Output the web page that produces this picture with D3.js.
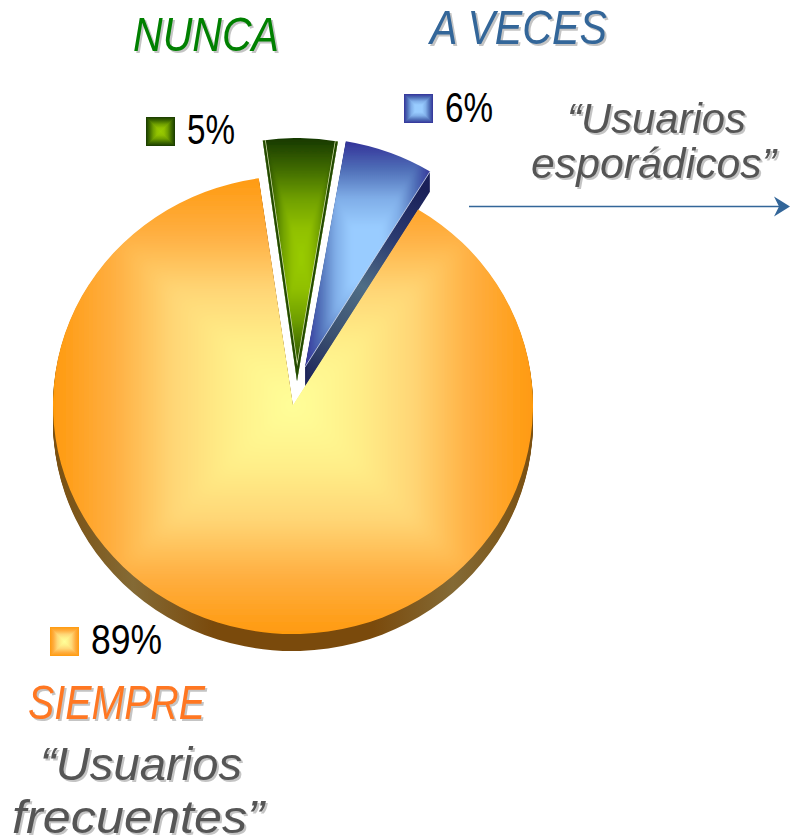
<!DOCTYPE html>
<html>
<head>
<meta charset="utf-8">
<script src="https://cdn.jsdelivr.net/npm/d3@7"></script>
<style>
  html, body { margin: 0; padding: 0; background: #fff; }
  svg { display: block; }
  text { font-family: "Liberation Sans", Arial, sans-serif; }
  .head, .note { font-style: italic; filter: drop-shadow(2px 2px 0 #c4c4c4); }
</style>
</head>
<body>
<div class="canvas"></div>
<script>
// data
const categories = ['NUNCA', 'A VECES', 'SIEMPRE'];
const shares = [5, 6, 89];
const shareLabels = ['5%', '6%', '89%'];

const width = 790;
const height = 838;

// pie geometry, top face is an ellipse
const rx = 240;
const ry = 229;
const cx = 293;
const cy = 405;
const firstAngle = -8.2 * Math.PI / 180;

const svg = d3.select('.canvas')
    .append('svg')
    .attr('width', width)
    .attr('height', height);
const defs = svg.append('defs');

const pie = d3.pie().sort(null).startAngle(firstAngle).endAngle(firstAngle + 2 * Math.PI);
const arcs = pie(shares);
const arc = d3.arc().innerRadius(0).outerRadius(rx);

// how each slice is drawn, same order as categories
const looks = [
    { x: 297, y: 381, yScale: 243 / rx, depth: 0, blur: 1.5,
      fill: ['#183a00', '#3f6a00', '#6f9f00', '#90c000', '#99cc00'], box: [264, 139, 338, 381], mid: [301, 258] },
    { x: 305, y: 367, yScale: ry / rx, depth: 20, blur: 2.5,
      fill: ['#333399', '#5070b8', '#80aee8', '#99ccff', '#99ccff'], box: [305, 142, 431, 367], mid: [366, 255] },
    { x: cx, y: cy, yScale: ry / rx, depth: 17, blur: 7,
      fill: ['#ff9a0e', '#ffae40', '#ffd676', '#fff08a', '#ffff99'], box: [53, 176, 533, 634], mid: [293, 405] }
];

const gradient = (id, x1, y1, x2, y2, stops) => {
    const g = defs.append('linearGradient')
        .attr('id', id)
        .attr('gradientUnits', 'userSpaceOnUse')
        .attr('x1', x1).attr('y1', y1).attr('x2', x2).attr('y2', y2);
    stops.forEach((c, i) => g.append('stop')
        .attr('offset', i / (stops.length - 1))
        .attr('stop-color', c));
    return `url(#${id})`;
};

// concentric "from centre" fill: four triangles meeting in the bright spot
const boxFill = (parent, id, box, mid, colors) => {
    const [x0, y0, x1, y1] = box;
    const [mx, my] = mid;
    const sides = [
        { pts: [[x0, y0], [x1, y0]], from: [mx, y0] },
        { pts: [[x1, y0], [x1, y1]], from: [x1, my] },
        { pts: [[x1, y1], [x0, y1]], from: [mx, y1] },
        { pts: [[x0, y1], [x0, y0]], from: [x0, my] }
    ];
    sides.forEach((s, i) => {
        parent.append('path')
            .attr('d', `M${s.pts[0]}L${s.pts[1]}L${mx},${my}Z`)
            .attr('fill', gradient(`${id}-${i}`, s.from[0], s.from[1], mx, my, colors))
            .attr('stroke', 'none')
            .attr('shape-rendering', 'crispEdges');
    });
};

const sliceTransform = (look) => `translate(${look.x},${look.y}) scale(1,${look.yScale})`;

// point on the rim of a slice, in page pixels
const rimPoint = (look, angle) => [
    look.x + rx * Math.sin(angle),
    look.y - rx * look.yScale * Math.cos(angle)
];

// side walls first, orange then blue. these gradients live in the slice's own coordinates
const blueLook = looks[1];
const sideFills = [
    null,
    gradient('side-blue', 0, 0, rx * Math.sin(arcs[1].endAngle), -rx * Math.cos(arcs[1].endAngle),
        ['#1a2058', '#3a5070', '#4f6d85', '#2a3a70', '#1a2058']),
    gradient('side-orange', -rx, 0, rx, 0,
        ['#7a4f10', '#846a35', '#7a4a0c', '#7a4a0c', '#7a4a0c', '#846a35', '#7a4f10'])
];
[2, 1].forEach(i => {
    const look = looks[i];
    const wall = svg.append('g');
    wall.selectAll('path')
        .data(d3.range(1, look.depth + 1))
        .enter()
        .append('path')
        .attr('d', arc(arcs[i]))
        .attr('fill', sideFills[i])
        .attr('transform', d => `translate(${look.x},${look.y + d}) scale(1,${look.yScale})`);
});

// top faces
[2, 1, 0].forEach(i => {
    const look = looks[i];
    defs.append('clipPath')
        .attr('id', `clip-${i}`)
        .append('path')
        .attr('d', arc(arcs[i]))
        .attr('transform', sliceTransform(look));
    defs.append('filter')
        .attr('id', `soft-${i}`)
        .attr('filterUnits', 'userSpaceOnUse')
        .attr('x', 0).attr('y', 0).attr('width', width).attr('height', height)
        .append('feGaussianBlur')
        .attr('stdDeviation', look.blur);

    const face = svg.append('g').attr('clip-path', `url(#clip-${i})`);
    const soft = face.append('g').attr('filter', `url(#soft-${i})`);
    // edge colour behind the fill, so the blur does not fade out at the box
    const [x0, y0, x1, y1] = look.box;
    soft.append('rect')
        .attr('x', x0 - 30).attr('y', y0 - 30)
        .attr('width', x1 - x0 + 60).attr('height', y1 - y0 + 60)
        .attr('fill', look.fill[0]);
    boxFill(soft, `face-${i}`, look.box, look.mid, look.fill);

    if (i === 0) {
        // bevel of the green slice, only along the two straight sides
        const a = rimPoint(look, arcs[i].startAngle);
        const b = rimPoint(look, arcs[i].endAngle);
        const sides = `M${a}L${look.x},${look.y}L${b}`;
        face.append('path')
            .attr('d', sides)
            .attr('fill', 'none')
            .attr('stroke', '#d8e4b0')
            .attr('stroke-width', 6);
        face.append('path')
            .attr('d', sides)
            .attr('fill', 'none')
            .attr('stroke', '#234a00')
            .attr('stroke-width', 4.6);
    }
});

// thin light line between blue face and its wall
const blueEnd = rimPoint(blueLook, arcs[1].endAngle);
svg.append('line')
    .attr('x1', blueLook.x)
    .attr('y1', blueLook.y)
    .attr('x2', blueEnd[0])
    .attr('y2', blueEnd[1])
    .attr('stroke', '#d5def0')
    .attr('stroke-width', 0.8);

// legend swatches and percentages
const legendPos = [
    { x: 146, y: 117, tx: 187, ty: 144, w: 48 },
    { x: 404, y: 94, tx: 445, ty: 122, w: 48 },
    { x: 50, y: 627, tx: 91, ty: 654, w: 71 }
];
legendPos.forEach((p, i) => {
    const sw = svg.append('g');
    boxFill(sw, `swatch-${i}`, [p.x, p.y, p.x + 29, p.y + 29], [p.x + 14.5, p.y + 14.5], looks[i].fill);
    svg.append('text')
        .attr('x', p.tx)
        .attr('y', p.ty)
        .attr('font-size', 42)
        .attr('textLength', p.w)
        .attr('lengthAdjust', 'spacingAndGlyphs')
        .attr('fill', '#000')
        .text(shareLabels[i]);
});

// headings
const headColors = ['#008000', '#336699', '#ff7722'];
const headPos = [
    { x: 133, y: 51, w: 146 },
    { x: 430, y: 44, w: 177 },
    { x: 28, y: 719, w: 177 }
];
headPos.forEach((p, i) => {
    svg.append('text')
        .attr('class', 'head')
        .attr('x', p.x)
        .attr('y', p.y)
        .attr('font-size', 48)
        .attr('textLength', p.w)
        .attr('lengthAdjust', 'spacingAndGlyphs')
        .attr('fill', headColors[i])
        .text(categories[i]);
});

// notes
const notes = [
    { text: '\u201cUsuarios', x: 567, y: 133, w: 179, size: 42 },
    { text: 'espor\u00e1dicos\u201d', x: 531, y: 178, w: 245, size: 42 },
    { text: '\u201cUsuarios', x: 40, y: 780, w: 202, size: 46 },
    { text: 'frecuentes\u201d', x: 12, y: 833, w: 252, size: 46 }
];
notes.forEach(n => {
    svg.append('text')
        .attr('class', 'note')
        .attr('x', n.x)
        .attr('y', n.y)
        .attr('font-size', n.size)
        .attr('textLength', n.w)
        .attr('lengthAdjust', 'spacingAndGlyphs')
        .attr('fill', '#555')
        .text(n.text);
});

// arrow to the right
svg.append('line')
    .attr('x1', 469).attr('y1', 206.5)
    .attr('x2', 782).attr('y2', 206.5)
    .attr('stroke', '#336699')
    .attr('stroke-width', 1.5);
svg.append('path')
    .attr('d', 'M774,196.5L790,206.5L774,216.5L779,206.5Z')
    .attr('fill', '#336699');
</script>
</body>
</html>
